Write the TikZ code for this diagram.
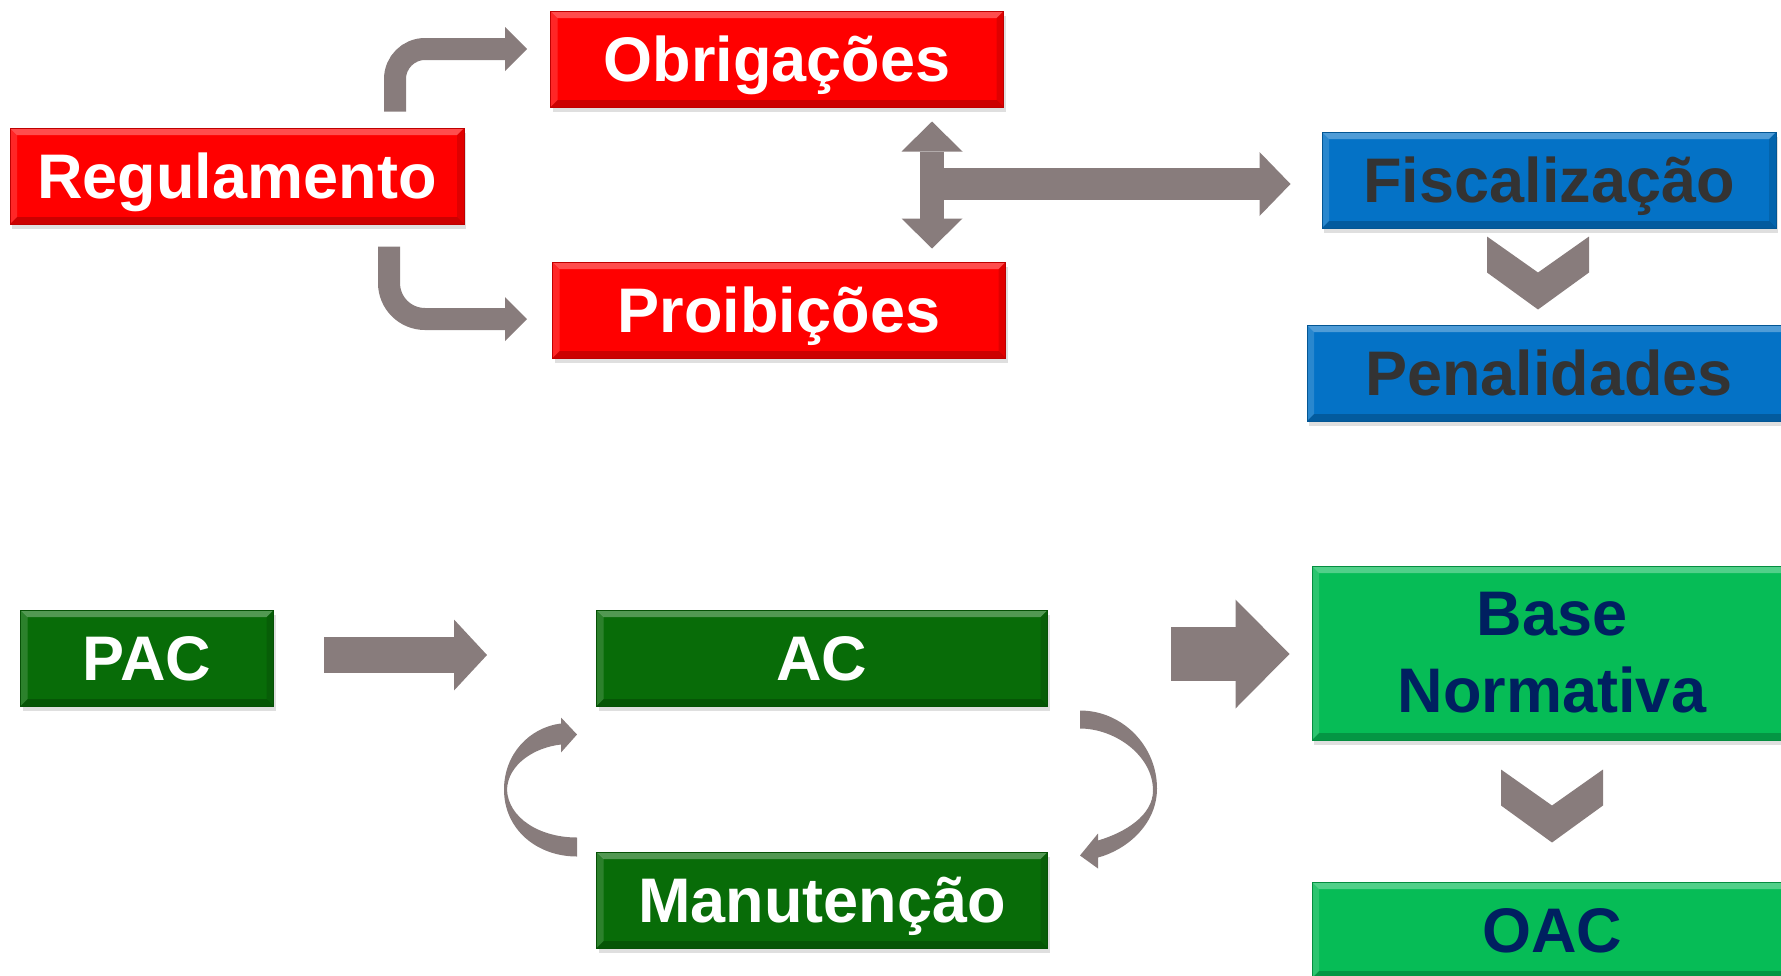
\documentclass[tikz,border=0pt]{standalone}
\usepackage{fontspec}
\setmainfont{Liberation Sans}
\usetikzlibrary{arrows.meta}
\usetikzlibrary{shadows}
\definecolor{regred}{RGB}{255,0,0}
\definecolor{fisblue}{RGB}{4,114,198}
\definecolor{acgreen}{RGB}{8,108,8}
\definecolor{basegreen}{RGB}{6,188,86}
\definecolor{navytext}{RGB}{0,32,96}
\definecolor{greytext}{RGB}{51,51,51}
\definecolor{arrowgrey}{RGB}{136,124,124}

\begin{document}
\begin{tikzpicture}[x=1pt,y=-1pt,
  bevel/.style={path picture={
    \fill[white,opacity=.3] (path picture bounding box.north west) -- (path picture bounding box.north east)
      -- ([shift={(-7pt,-7pt)}]path picture bounding box.north east) -- ([shift={(7pt,-7pt)}]path picture bounding box.north west) -- cycle;
    \fill[white,opacity=.15] (path picture bounding box.north west) -- ([shift={(7pt,-7pt)}]path picture bounding box.north west)
      -- ([shift={(7pt,7pt)}]path picture bounding box.south west) -- (path picture bounding box.south west) -- cycle;
    \fill[black,opacity=.2] (path picture bounding box.south west) -- ([shift={(7pt,7pt)}]path picture bounding box.south west)
      -- ([shift={(-7pt,7pt)}]path picture bounding box.south east) -- (path picture bounding box.south east) -- cycle;
    \fill[black,opacity=.12] (path picture bounding box.north east) -- ([shift={(-7pt,-7pt)}]path picture bounding box.north east)
      -- ([shift={(-7pt,7pt)}]path picture bounding box.south east) -- (path picture bounding box.south east) -- cycle;}},
  box/.style={draw=#1!75!black, fill=#1, line width=1pt, minimum height=96pt, inner sep=0pt,
    font=\fontsize{63}{77}\selectfont\bfseries, align=center, bevel,
    drop shadow={shadow xshift=2pt,shadow yshift=-5pt,opacity=.25}},
  oneline/.style={text height=59pt,text depth=14pt},
  blockarrow/.style n args={3}{draw=arrowgrey, line width=#1, -{Triangle[width=#2,length=#3,line width=0pt]}},
  elbow/.style={blockarrow={22pt}{44pt}{22pt}, rounded corners=#1},
  chevron/.pic={\fill[arrowgrey] (-51,0) -- (0,36) -- (51,0) -- (51,36) -- (0,73) -- (-51,36) -- cycle;}]
  \useasboundingbox (0,0) rectangle (1781,975);
  \clip (0,0) rectangle (1781,975);

  \node[box=regred, oneline, text=white, minimum width=454pt] (reg) at (237,176) {Regulamento};
  \node[box=regred, oneline, text=white, minimum width=453pt] (obr) at (777,59) {Obrigações};
  \node[box=regred, oneline, text=white, minimum width=453pt] (pro) at (779,310) {Proibições};
  \node[box=fisblue, oneline, text=greytext, minimum width=454pt] (fis) at (1549,180) {Fiscalização};
  \node[box=fisblue, oneline, text=greytext, minimum width=484pt] (pen) at (1549,373) {Penalidades};
  \node[box=acgreen, oneline, text=white, minimum width=253pt] (pac) at (147,658) {PAC};
  \node[box=acgreen, oneline, text=white, minimum width=451pt] (ac) at (822,658) {AC};
  \node[box=acgreen, oneline, text=white, minimum width=451pt] (man) at (822,900) {Manutenção};
  \node[box=basegreen, text=navytext, minimum width=480pt, minimum height=174pt] (base) at (1552,653) {Base\\Normativa};
  \node[box=basegreen, oneline, text=navytext, minimum width=480pt] (oac) at (1552,930) {OAC};

  \coordinate (hub) at (932,184);
  \draw[elbow=30pt] ([xshift=158pt,yshift=16pt]reg.north) |- ([xshift=-23pt,yshift=10pt]obr.west);
  \draw[elbow=36pt] ([xshift=152pt,yshift=-22pt]reg.south) |- ([xshift=-25pt,yshift=-9pt]pro.west);
  \draw[blockarrow={32pt}{64pt}{31pt}] (hub) -- ([xshift=-31pt,yshift=-4pt]fis.west);
  \draw[blockarrow={24pt}{61pt}{30pt}, {Triangle[width=61pt,length=30pt,line width=0pt]}-{Triangle[width=61pt,length=30pt,line width=0pt]}]
    ([xshift=155pt,yshift=-14pt]obr.south) -- ([xshift=153pt,yshift=13pt]pro.north);
  \pic at ([xshift=-11pt,yshift=-8pt]fis.south) {chevron};

  \draw[blockarrow={36pt}{71pt}{33pt}] ([xshift=50pt,yshift=3pt]pac.east) -- ([xshift=-109pt,yshift=3pt]ac.west);
  \draw[blockarrow={54pt}{109pt}{54pt}] ([xshift=123pt,yshift=4pt]ac.east) -- ([xshift=-22pt,yshift=-1pt]base.west);
  \pic at ([yshift=-29pt]base.south) {chevron};

  \begin{scope}[shift={(man.north west)}]
    \fill[arrowgrey] (-19,5) .. controls (-59,5) and (-92,-22) .. (-92,-62)
      .. controls (-92,-97) and (-67,-124) .. (-35,-128) -- (-35,-134) -- (-19,-117)
      -- (-35,-99) -- (-35,-107) .. controls (-62,-104) and (-88,-87) .. (-89,-62)
      .. controls (-88,-34) and (-57,-14) .. (-19,-14) -- cycle;
  \end{scope}
  \begin{scope}[shift={(ac.south east)}]
    \fill[arrowgrey] (32,4) .. controls (74,4) and (109,39) .. (109,82)
      .. controls (109,119) and (77,144) .. (50,151) -- (50,162) -- (32,149)
      -- (50,127) -- (50,134) .. controls (77,126) and (105,109) .. (105,84)
      .. controls (105,49) and (67,22) .. (32,22) -- cycle;
  \end{scope}
\end{tikzpicture}
\end{document}
